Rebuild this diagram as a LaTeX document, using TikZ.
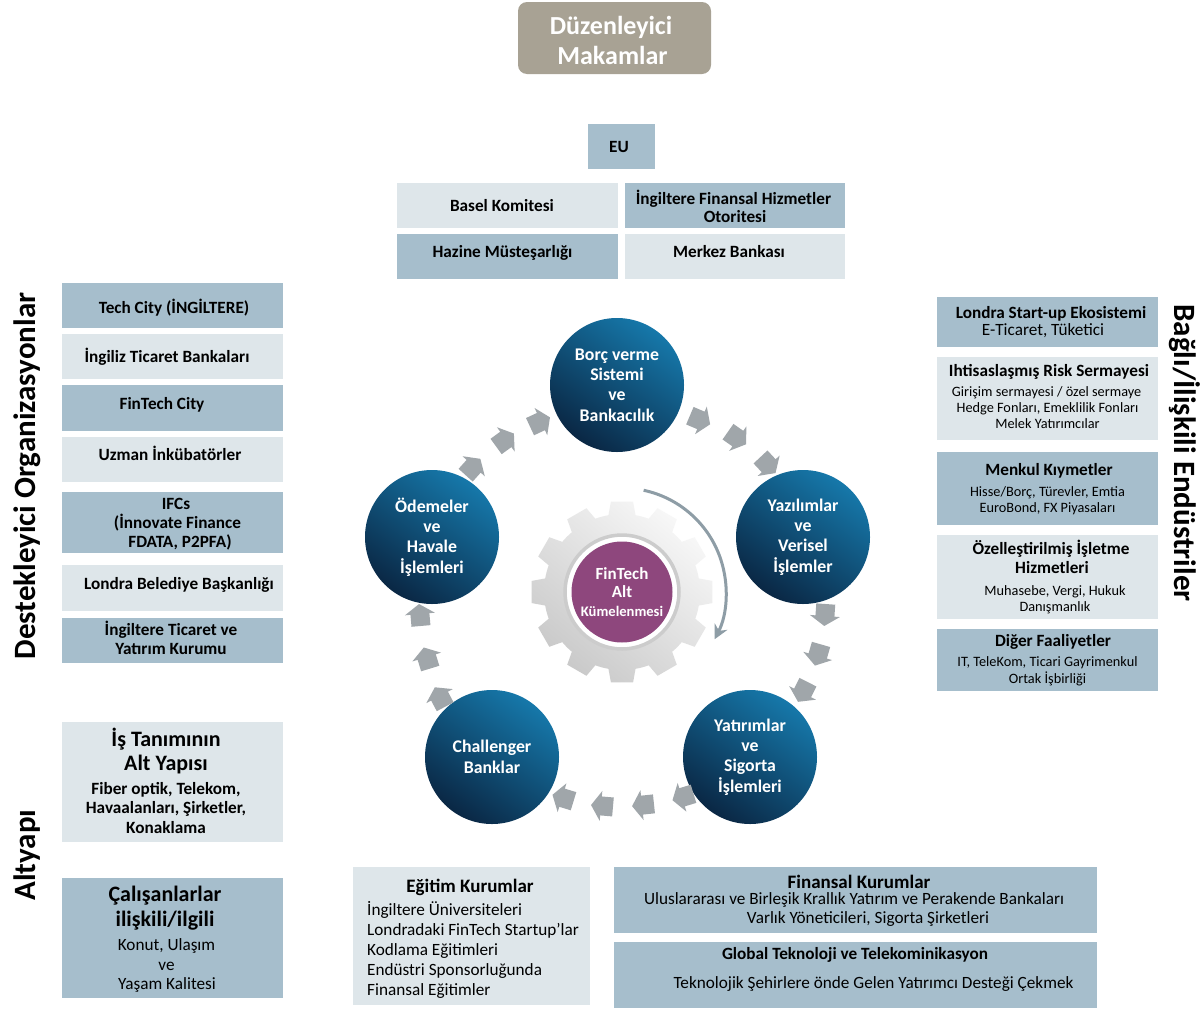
\documentclass[tikz,border=0pt]{standalone}
\usepackage{fontspec}
\setmainfont{Carlito}
\usetikzlibrary{arrows.meta}
\definecolor{tancol}{HTML}{A8A294}
\definecolor{boxdark}{HTML}{A6BECC}
\definecolor{boxlight}{HTML}{DEE6EA}
\definecolor{bluetop}{HTML}{1678AA}
\definecolor{bluemid}{HTML}{136A9A}
\definecolor{bluebot}{HTML}{0A2744}
\definecolor{magcol}{HTML}{8E477D}
\definecolor{arrowgray}{HTML}{A0A6AA}
\definecolor{curvegray}{HTML}{8E9DA6}
\newcommand{\fs}[2]{\fontsize{#1}{#2}\selectfont}
\begin{document}
\begin{tikzpicture}[x=1pt,y=-1pt,
  box/.style={inner sep=0pt, minimum width=221pt, minimum height=45pt},
  dbox/.style={box, fill=boxdark},
  lbox/.style={box, fill=boxlight},
  txl/.style={anchor=base, inner sep=0pt, text=black, yshift=-1pt},
  bt/.style={txl, font=\bfseries\fs{17.2}{20}},
  rt/.style={txl, font=\fs{17.2}{20}},
  st/.style={txl, font=\fs{14.3}{16}},
  bigt/.style={txl, font=\bfseries\fs{22}{24}},
  hdt/.style={txl, font=\bfseries\fs{19}{22}},
  circ/.style={circle, minimum size=134pt, inner sep=0pt, align=center, text=white, font=\bfseries\fs{17.8}{20.4},
    top color=bluetop, middle color=bluemid, bottom color=bluebot, shading angle=-35},
  vlabel/.style={font=\bfseries\fs{31}{34}, text=black, inner sep=0pt}
]
\useasboundingbox (0,0) rectangle (1204,1012);
\fill[white] (0,0) rectangle (1204,1012);

% ---------- Regulators
\node[fill=tancol, rounded corners=9pt, minimum width=193pt, minimum height=72pt, inner sep=0pt] (reg) at (614.5,38) {};
\node[txl, text=white, font=\bfseries\fs{26}{30}] (regA) at (611,33.5) {Düzenleyici};
\node[txl, text=white, font=\bfseries\fs{26}{30}] (regB) at (612.5,63) {Makamlar};
\node[dbox, minimum width=67pt] (eu) at (621.5,146.5) {};
\node[bt] (euT) at (619,151.5) {EU};
\node[lbox] (basel) at (507.5,205.5) {};
\node[bt] (baselT) at (502,210.5) {Basel Komitesi};
\node[dbox, minimum width=220pt] (ingfin) at (735,205.5) {};
\node[bt] (ingfinA) at (733.5,203) {İngiltere Finansal Hizmetler};
\node[bt] (ingfinB) at (735,221.5) {Otoritesi};
\node[dbox] (hazine) at (507.5,256.5) {};
\node[bt] (hazineT) at (502.5,256) {Hazine Müsteşarlığı};
\node[lbox, minimum width=220pt] (merkez) at (735,256.5) {};
\node[bt] (merkezT) at (729,256) {Merkez Bankası};

% ---------- Left column
\node[vlabel, rotate=90] (destek) at (27,476) {Destekleyici Organizasyonlar};
\node[dbox] (techcity) at (172.5,305.5) {};
\node[bt] (techcityT) at (174,312.5) {Tech City (İNGİLTERE)};
\node[lbox] (ingbank) at (172.5,356.5) {};
\node[bt] (ingbankT) at (167,361.5) {İngiliz Ticaret Bankaları};
\node[dbox, minimum height=46pt] (fincity) at (172.5,408) {};
\node[bt] (fincityT) at (162,408.5) {FinTech City};
\node[lbox] (uzman) at (172.5,459.5) {};
\node[bt] (uzmanT) at (170,459.5) {Uzman İnkübatörler};
\node[dbox, minimum height=61pt] (ifcs) at (172.5,522.5) {};
\node[bt] (ifcsA) at (176,508.5) {IFCs};
\node[bt] (ifcsB) at (177.5,527) {(İnnovate Finance};
\node[bt] (ifcsC) at (180,546.5) {FDATA, P2PFA)};
\node[lbox, minimum height=46pt] (londra) at (172.5,588) {};
\node[bt] (londraT) at (179,588.5) {Londra Belediye Başkanlığı};
\node[dbox] (ingtic) at (172.5,640.5) {};
\node[bt] (ingticA) at (171,634.5) {İngiltere Ticaret ve};
\node[bt] (ingticB) at (171,653.5) {Yatırım Kurumu};

\node[vlabel, rotate=90] (altyapi) at (27,855) {Altyapı};
\node[lbox, minimum height=120pt] (istanim) at (172.5,782) {};
\node[bigt] (istanimA) at (166,745) {İş Tanımının};
\node[bigt] (istanimB) at (166,769) {Alt Yapısı};
\node[bt] (istanimC) at (166,793.5) {Fiber optik, Telekom,};
\node[bt] (istanimD) at (166,812.5) {Havaalanları, Şirketler,};
\node[bt] (istanimE) at (166,832.5) {Konaklama};
\node[dbox, minimum height=120pt] (calisan) at (172.5,938) {};
\node[bigt] (calisanA) at (165,900) {Çalışanlarlar};
\node[bigt] (calisanB) at (165,925) {ilişkili/ilgili};
\node[rt] (calisanC) at (166.5,949.5) {Konut, Ulaşım};
\node[rt] (calisanD) at (166.5,969.5) {ve};
\node[rt] (calisanE) at (167,988.5) {Yaşam Kalitesi};

% ---------- Right column
\node[vlabel, rotate=-90] (bagli) at (1185,453) {Bağlı/İlişkili Endüstriler};
\node[dbox, minimum height=50pt] (lsu) at (1047.5,322) {};
\node[bt] (lsuA) at (1051,317.5) {Londra Start-up Ekosistemi};
\node[rt] (lsuB) at (1043,334.5) {E-Ticaret, Tüketici};
\node[lbox, minimum height=83pt] (risk) at (1047.5,398.5) {};
\node[bt] (riskA) at (1049,375.5) {Ihtisaslaşmış Risk Sermayesi};
\node[st] (riskB) at (1046.5,395.6) {Girişim sermayesi / özel sermaye};
\node[st] (riskC) at (1047.5,411.6) {Hedge Fonları, Emeklilik Fonları};
\node[st] (riskD) at (1047.5,427.6) {Melek Yatırımcılar};
\node[dbox, minimum height=73pt] (menkul) at (1047.5,488.5) {};
\node[bt] (menkulA) at (1049,474.5) {Menkul Kıymetler};
\node[st] (menkulB) at (1047.5,495.6) {Hisse/Borç, Türevler, Emtia};
\node[st] (menkulC) at (1047.5,511.6) {EuroBond, FX Piyasaları};
\node[lbox, minimum height=84pt] (ozel) at (1047.5,577) {};
\node[bt] (ozelA) at (1051,553.5) {Özelleştirilmiş İşletme};
\node[bt] (ozelB) at (1052,572.5) {Hizmetleri};
\node[st] (ozelC) at (1055,594.6) {Muhasebe, Vergi, Hukuk};
\node[st] (ozelD) at (1055,610.6) {Danışmanlık};
\node[dbox, minimum height=62pt] (diger) at (1047.5,660) {};
\node[bt] (digerA) at (1053,645.5) {Diğer Faaliyetler};
\node[st] (digerB) at (1047.5,665.6) {IT, TeleKom, Ticari Gayrimenkul};
\node[st] (digerC) at (1047.5,682.6) {Ortak İşbirliği};

% ---------- Bottom
\node[lbox, minimum width=237pt, minimum height=138pt] (egitim) at (471.5,936) {};
\node[hdt] (egitimT) at (470,891) {Eğitim Kurumlar};
\node[rt, anchor=base west] (egitimA) at (367,914.5) {İngiltere Üniversiteleri};
\node[rt, anchor=base west] (egitimB) at (367,934.5) {Londradaki FinTech Startup’lar};
\node[rt, anchor=base west] (egitimC) at (367,954.5) {Kodlama Eğitimleri};
\node[rt, anchor=base west] (egitimD) at (367,974.5) {Endüstri Sponsorluğunda};
\node[rt, anchor=base west] (egitimE) at (367,994.5) {Finansal Eğitimler};
\node[dbox, minimum width=483pt, minimum height=66pt] (finans) at (855.5,900) {};
\node[hdt] (finansT) at (859,887) {Finansal Kurumlar};
\node[rt] (finansA) at (854,903.5) {Uluslararası ve Birleşik Krallık Yatırım ve Perakende Bankaları};
\node[rt] (finansB) at (868,922.5) {Varlık Yöneticileri, Sigorta Şirketleri};
\node[dbox, minimum width=483pt, minimum height=66pt] (global) at (855.5,975) {};
\node[bt] (globalT) at (855,958.5) {Global Teknoloji ve Telekominikasyon};
\node[rt] (globalA) at (873.5,987.5) {Teknolojik Şehirlere önde Gelen Yatırımcı Desteği Çekmek};

% ---------- Gear
\coordinate (gc) at (622,592);
\begin{scope}[shift={(gc)}]
\shade[top color=gray!6, bottom color=gray!42, shading angle=-40]
  (-10:78pt) \foreach \i in {0,...,11}{ -- ({\i*30-10}:78pt) -- ({\i*30-7}:91pt) -- ({\i*30+7}:91pt) -- ({\i*30+10}:78pt)
     arc[start angle={\i*30+10}, end angle={\i*30+20}, radius=78pt] } -- cycle;
\end{scope}
\node[circle, minimum size=114pt, inner sep=0pt, fill=white, draw=gray!40, line width=3.5pt] (ring) at (gc) {};
\node[circle, minimum size=101pt, inner sep=0pt, fill=magcol, text=white, align=center, font=\bfseries\fs{17}{18.2}] (fintech) at (gc)
  {FinTech\\Alt\\\fs{14.6}{16}Kümelenmesi};
\draw[curvegray, line width=3pt, -{Stealth[length=14pt,width=14pt]}] (gc) ++(78:104pt) coordinate (cstart)
  arc[start angle=78, end angle=-27, radius=104pt] coordinate (cend);

% ---------- Circles
\node[circ] (borc) at (617,385) {Borç verme\\Sistemi\\ve\\Bankacılık};
\node[circ] (yaz) at (803,537) {Yazılımlar\\ve\\Verisel\\İşlemler};
\node[circ] (yat) at (750,757) {Yatırımlar\\ve\\Sigorta\\İşlemleri};
\node[circ] (chal) at (492,757) {Challenger\\Banklar};
\node[circ] (ode) at (432,537) {Ödemeler\\ve\\Havale\\İşlemleri};

% ---------- Small block arrows (clockwise flow)
\foreach \px/\py/\r in {700/420/-23, 737/438/-35, 768/465/-47,
   825/615/-94, 818/655/-106, 803/692/-117,
   683/797/-163, 643/805/-174, 602/806/-185, 563/798/-197,
   440/697/118, 427/658/107, 420/615/95,
   473/467/48, 505/440/36, 540/422/25}
  {\begin{scope}[shift={(\px,\py)}, rotate=\r]
     \fill[arrowgray] (-11pt,-9.5pt) -- (1pt,-9.5pt) -- (1pt,-15pt) -- (11pt,0pt) -- (1pt,15pt) -- (1pt,9.5pt) -- (-11pt,9.5pt) -- cycle;
   \end{scope}}
\end{tikzpicture}
\end{document}
